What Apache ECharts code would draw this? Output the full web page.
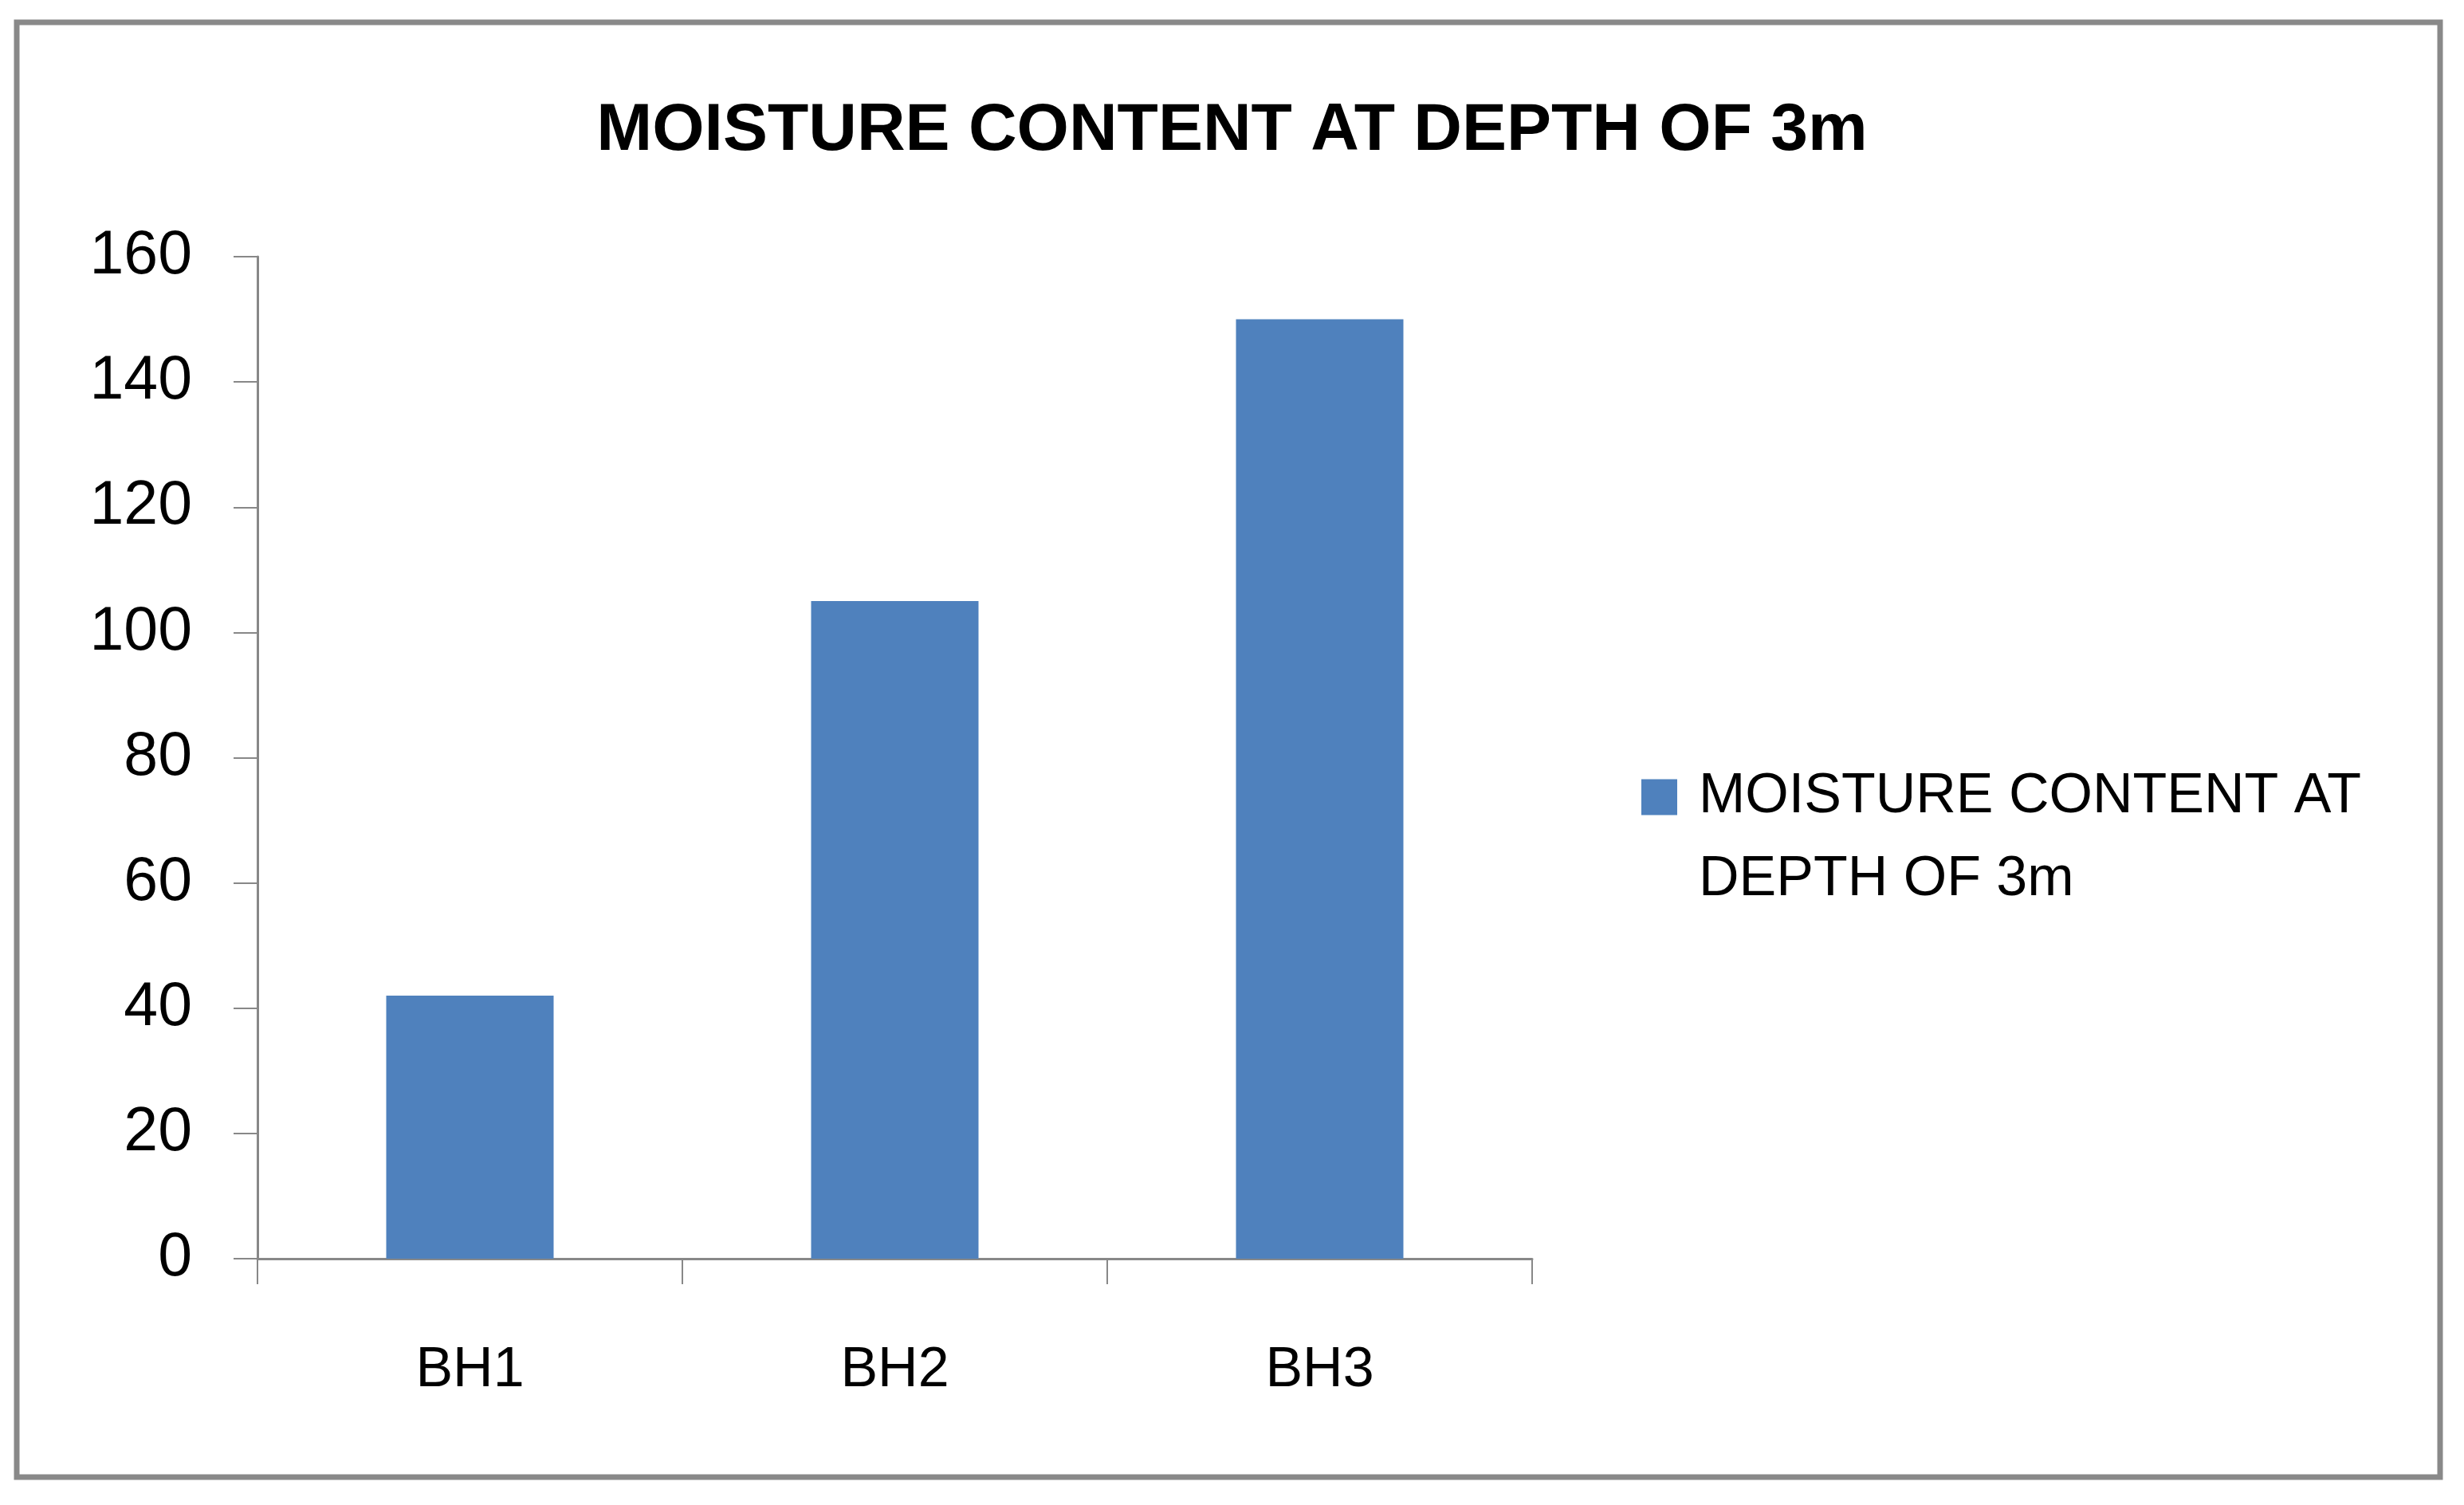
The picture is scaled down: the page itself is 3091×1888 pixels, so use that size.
<!DOCTYPE html>
<html>
<head>
<meta charset="utf-8">
<script src="https://cdn.jsdelivr.net/npm/echarts@6/dist/echarts.min.js"></script>
<style>
html,body{margin:0;padding:0;background:#fff;}
#chart{width:3091px;height:1888px;}
</style>
</head>
<body>
<div id="chart"></div>
<script>
const titleText = 'MOISTURE CONTENT AT DEPTH OF 3m';
const categories = ['BH1', 'BH2', 'BH3'];
const seriesName = 'MOISTURE CONTENT AT DEPTH OF 3m';
const legendLines = ['MOISTURE CONTENT AT', 'DEPTH OF 3m'];
const moistureValues = [42, 105, 150];
const yMin = 0, yMax = 160, yStep = 20;

const FONT = '"Liberation Sans", Arial, sans-serif';
const chart = echarts.init(document.getElementById('chart'));
chart.setOption({
  animation: false,
  backgroundColor: '#ffffff',
  graphic: [{
    type: 'rect',
    shape: { x: 21, y: 28, width: 3040, height: 1825 },
    style: { fill: 'none', stroke: '#898989', lineWidth: 7 },
    silent: true
  }],
  title: {
    text: titleText,
    left: 'center',
    top: 118,
    textStyle: { fontFamily: FONT, fontWeight: 'bold', fontSize: 84, color: '#000' }
  },
  legend: {
    data: [seriesName],
    left: 2059,
    top: 844,
    padding: 0,
    itemWidth: 45,
    itemHeight: 45,
    icon: 'rect',
    formatter: function () { return ' \n' + legendLines.join('\n'); },
    textStyle: {
      fontFamily: FONT, fontSize: 70, color: '#000', lineHeight: 104,
      padding: [0, 0, 0, 22]
    }
  },
  grid: { left: 323, top: 322, right: 1169, bottom: 309, containLabel: false },
  xAxis: {
    type: 'category',
    data: categories,
    axisLine: { lineStyle: { color: '#888', width: 3 } },
    axisTick: { show: true, length: 32, lineStyle: { color: '#888', width: 2 } },
    axisLabel: { margin: 106, fontFamily: FONT, fontSize: 70, color: '#000' },
    splitLine: { show: false }
  },
  yAxis: {
    type: 'value',
    min: yMin, max: yMax, interval: yStep,
    axisLine: { show: true, lineStyle: { color: '#888', width: 3 } },
    axisTick: { show: true, length: 30, lineStyle: { color: '#888', width: 2 } },
    axisLabel: { margin: 82, fontFamily: FONT, fontSize: 77, color: '#000' },
    splitLine: { show: false }
  },
  series: [{
    name: seriesName,
    type: 'bar',
    data: moistureValues,
    barWidth: 210,
    itemStyle: { color: '#4F81BD' }
  }]
});
</script>
</body>
</html>
